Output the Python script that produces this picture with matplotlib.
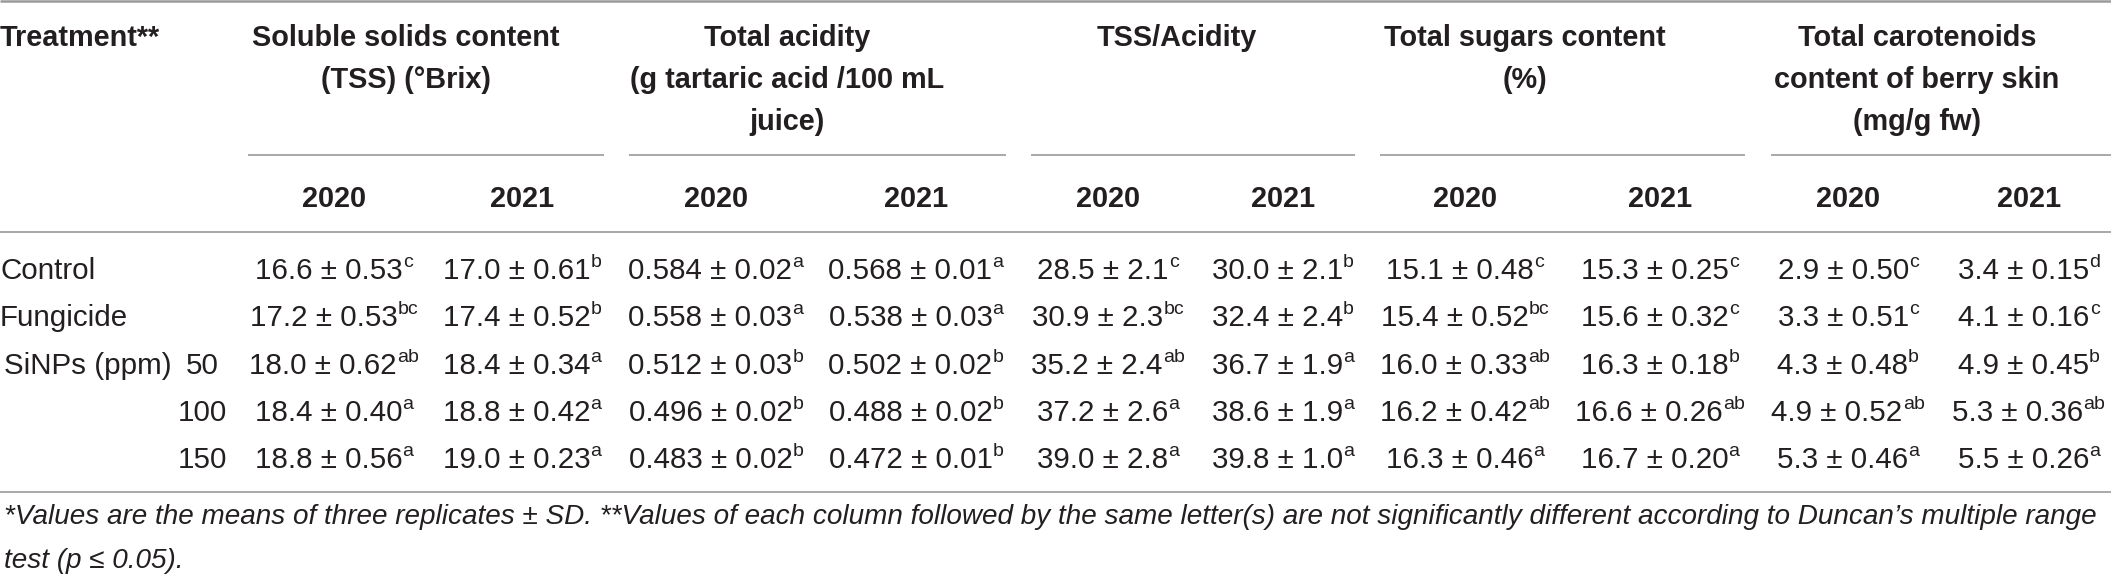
import matplotlib
matplotlib.use("Agg")
import matplotlib.pyplot as plt
from matplotlib.font_manager import FontProperties

# ---------------- data ----------------
treatments = ["Control", "Fungicide", "SiNPs (ppm)", "", ""]
doses = ["", "", "50", "100", "150"]
years = ["2020", "2021"]
group_titles = [
    ["Soluble solids content", "(TSS) (°Brix)"],
    ["Total acidity", "(g tartaric acid /100 mL", "juice)"],
    ["TSS/Acidity"],
    ["Total sugars content", "(%)"],
    ["Total carotenoids", "content of berry skin", "(mg/g fw)"],
]

tss_2020 = [16.6, 17.2, 18.0, 18.4, 18.8]
tss_2020_sd = [0.53, 0.53, 0.62, 0.40, 0.56]
tss_2020_let = ["c", "bc", "ab", "a", "a"]
tss_2021 = [17.0, 17.4, 18.4, 18.8, 19.0]
tss_2021_sd = [0.61, 0.52, 0.34, 0.42, 0.23]
tss_2021_let = ["b", "b", "a", "a", "a"]

acid_2020 = [0.584, 0.558, 0.512, 0.496, 0.483]
acid_2020_sd = [0.02, 0.03, 0.03, 0.02, 0.02]
acid_2020_let = ["a", "a", "b", "b", "b"]
acid_2021 = [0.568, 0.538, 0.502, 0.488, 0.472]
acid_2021_sd = [0.01, 0.03, 0.02, 0.02, 0.01]
acid_2021_let = ["a", "a", "b", "b", "b"]

ratio_2020 = [28.5, 30.9, 35.2, 37.2, 39.0]
ratio_2020_sd = [2.1, 2.3, 2.4, 2.6, 2.8]
ratio_2020_let = ["c", "bc", "ab", "a", "a"]
ratio_2021 = [30.0, 32.4, 36.7, 38.6, 39.8]
ratio_2021_sd = [2.1, 2.4, 1.9, 1.9, 1.0]
ratio_2021_let = ["b", "b", "a", "a", "a"]

sug_2020 = [15.1, 15.4, 16.0, 16.2, 16.3]
sug_2020_sd = [0.48, 0.52, 0.33, 0.42, 0.46]
sug_2020_let = ["c", "bc", "ab", "ab", "a"]
sug_2021 = [15.3, 15.6, 16.3, 16.6, 16.7]
sug_2021_sd = [0.25, 0.32, 0.18, 0.26, 0.20]
sug_2021_let = ["c", "c", "b", "ab", "a"]

car_2020 = [2.9, 3.3, 4.3, 4.9, 5.3]
car_2020_sd = [0.50, 0.51, 0.48, 0.52, 0.46]
car_2020_let = ["c", "c", "b", "ab", "a"]
car_2021 = [3.4, 4.1, 4.9, 5.3, 5.5]
car_2021_sd = [0.15, 0.16, 0.45, 0.36, 0.26]
car_2021_let = ["d", "c", "b", "ab", "a"]

footnote = ["*Values are the means of three replicates \u00b1 SD. **Values of each column followed by the same letter(s) "
            "are not significantly different according to Duncan\u2019s multiple range",
            "test (p \u2264 0.05)."]

columns = [
    (tss_2020, tss_2020_sd, tss_2020_let, "{:.1f}", "{:.2f}"),
    (tss_2021, tss_2021_sd, tss_2021_let, "{:.1f}", "{:.2f}"),
    (acid_2020, acid_2020_sd, acid_2020_let, "{:.3f}", "{:.2f}"),
    (acid_2021, acid_2021_sd, acid_2021_let, "{:.3f}", "{:.2f}"),
    (ratio_2020, ratio_2020_sd, ratio_2020_let, "{:.1f}", "{:.1f}"),
    (ratio_2021, ratio_2021_sd, ratio_2021_let, "{:.1f}", "{:.1f}"),
    (sug_2020, sug_2020_sd, sug_2020_let, "{:.1f}", "{:.2f}"),
    (sug_2021, sug_2021_sd, sug_2021_let, "{:.1f}", "{:.2f}"),
    (car_2020, car_2020_sd, car_2020_let, "{:.1f}", "{:.2f}"),
    (car_2021, car_2021_sd, car_2021_let, "{:.1f}", "{:.2f}"),
]

# ---------------- layout (pixels) ----------------
W, H = 2111, 574
col_x = [334, 522, 716, 916, 1108, 1283, 1465, 1660, 1848, 2029]
group_x = [406, 787, 1177, 1525, 1917]
group_lines = [(248, 604), (629, 1006), (1031, 1355), (1380, 1745), (1771, 2111)]
head_y = [36, 78, 120]
span_line_y = 155
year_y = 197
rule_y = 232
row_y = [268, 315, 363, 410, 457]
bottom_y = 492
foot_y = [514, 558]
dose_x = 202

BODY_FAM = ["Liberation Sans Narrow", "Liberation Sans", "DejaVu Sans"]
HEAD_FAM = ["Liberation Sans Narrow", "Liberation Sans", "DejaVu Sans"]
TXT = "#231f20"
LINE = "#9a9a9a"

fig = plt.figure(figsize=(W / 100, H / 100), dpi=100)
ax = fig.add_axes([0, 0, 1, 1])
ax.set_xlim(0, W)
ax.set_ylim(H, 0)
ax.axis("off")
renderer = fig.canvas.get_renderer()


def width_of(s, fp):
    t = ax.text(0, 0, s, fontproperties=fp)
    w = t.get_window_extent(renderer).width
    t.remove()
    return w


def fitted(family, weight, style, sample, target):
    size = 20.0
    for _ in range(4):
        fp = FontProperties(family=family, weight=weight, style=style, size=size)
        w = width_of(sample, fp)
        size = size * target / w
    return FontProperties(family=family, weight=weight, style=style, size=size)


body_fp = fitted(BODY_FAM, "normal", "normal", "16.6 \u00b1 0.53", 148)
head_fp = fitted(HEAD_FAM, "bold", "normal", "Soluble solids content", 308)
foot_fp = fitted(BODY_FAM, "normal", "italic", footnote[0], 2096)
sup_fp = body_fp.copy()
sup_fp.set_size(body_fp.get_size() * 0.66)

body_px = body_fp.get_size() * 100 / 72
head_px = head_fp.get_size() * 100 / 72
foot_px = foot_fp.get_size() * 100 / 72


def baseline(yc, px):
    return yc + 0.36 * px


# rules
ax.plot([0, W], [1, 1], color=LINE, lw=1.8, solid_capstyle="butt")
ax.plot([0, W], [rule_y, rule_y], color=LINE, lw=1.2, solid_capstyle="butt")
ax.plot([0, W], [bottom_y, bottom_y], color=LINE, lw=1.2, solid_capstyle="butt")
for x0, x1 in group_lines:
    ax.plot([x0, x1], [span_line_y, span_line_y], color=LINE, lw=1.2, solid_capstyle="butt")

# header
ax.text(0, baseline(head_y[0], head_px), "Treatment**", fontproperties=head_fp,
        color=TXT, ha="left", va="baseline")
for gx, lines in zip(group_x, group_titles):
    for i, s in enumerate(lines):
        ax.text(gx, baseline(head_y[i], head_px), s, fontproperties=head_fp,
                color=TXT, ha="center", va="baseline")
for i, cx in enumerate(col_x):
    ax.text(cx, baseline(year_y, head_px), years[i % 2], fontproperties=head_fp,
            color=TXT, ha="center", va="baseline")

# row labels
for i, y in enumerate(row_y):
    if treatments[i]:
        ax.text(0 if i < 2 else 4, baseline(y, body_px), treatments[i], fontproperties=body_fp,
                color=TXT, ha="left", va="baseline")
    if doses[i]:
        ax.text(dose_x, baseline(y, body_px), doses[i], fontproperties=body_fp,
                color=TXT, ha="center", va="baseline")

# values
for cx, (means, sds, lets, mf, sf) in zip(col_x, columns):
    for i, y in enumerate(row_y):
        main = mf.format(means[i]) + " \u00b1 " + sf.format(sds[i])
        wm = width_of(main, body_fp)
        ws = width_of(lets[i], sup_fp)
        x0 = cx - (wm + ws) / 2
        yb = baseline(y, body_px)
        ax.text(x0, yb, main, fontproperties=body_fp, color=TXT, ha="left", va="baseline")
        ax.text(x0 + wm, yb - 0.40 * body_px, lets[i], fontproperties=sup_fp,
                color=TXT, ha="left", va="baseline")

# footnote
for s, y in zip(footnote, foot_y):
    ax.text(4, baseline(y, foot_px), s, fontproperties=foot_fp, color=TXT,
            ha="left", va="baseline")

fig.savefig("out.png", dpi=100, facecolor="white")
